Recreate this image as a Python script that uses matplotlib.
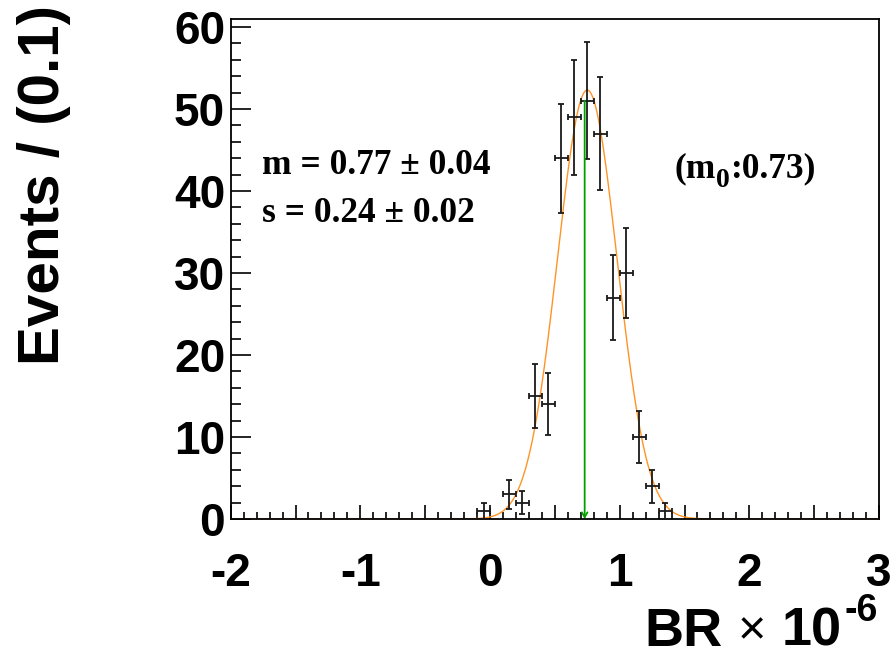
import numpy as np
import matplotlib
matplotlib.use("Agg")
import matplotlib.pyplot as plt
from matplotlib.ticker import MultipleLocator, FuncFormatter

# ---- data ----
bin_centers = [-0.05, 0.15, 0.25, 0.35, 0.45, 0.55, 0.65, 0.75, 0.85, 0.95, 1.05, 1.15, 1.25, 1.35]
counts = [1, 3, 2, 15, 14, 44, 49, 51, 47, 27, 30, 10, 4, 1]
bin_half_width = 0.05
fit_mean = 0.75
fit_sigma = 0.23
fit_amp = 52.3
m0 = 0.73
arrow_top = 51
fit_text_m = "m = 0.77 ± 0.04"
fit_text_s = "s = 0.24 ± 0.02"

plt.rcParams['axes.unicode_minus'] = False

W, H = 895, 659
fig = plt.figure(figsize=(W / 100, H / 100), dpi=100)
L, R, T, B = 230.7, 879, 18.7, 519
ax = fig.add_axes([L / W, 1 - B / H, (R - L) / W, (B - T) / H])

ax.set_xlim(-2, 3)
ax.set_ylim(0, 61)

# fit curve
xs = np.linspace(-2, 3, 2000)
ys = fit_amp * np.exp(-0.5 * ((xs - fit_mean) / fit_sigma) ** 2)
ax.plot(xs, ys, color='#ff9426', lw=1.0, zorder=2)

# data points
yerr = np.sqrt(np.array(counts, dtype=float))
ax.errorbar(bin_centers, counts, yerr=yerr, xerr=bin_half_width, fmt='none',
            ecolor='#1a1a1a', elinewidth=1.3, capsize=2.2, capthick=1.3, zorder=3)

# green arrow
ax.annotate('', xy=(m0, 0), xytext=(m0, arrow_top),
            arrowprops=dict(arrowstyle='->,head_length=0.35,head_width=0.2',
                            color='#00a000', lw=1.3, shrinkA=0, shrinkB=0), zorder=4)

# frame
for s in ax.spines.values():
    s.set_linewidth(1.3)
    s.set_color('black')

# ticks
ax.xaxis.set_major_locator(MultipleLocator(0.5))
ax.xaxis.set_minor_locator(MultipleLocator(0.1))
ax.xaxis.set_major_formatter(FuncFormatter(lambda v, p: ("%d" % round(v)) if abs(v - round(v)) < 1e-6 else ""))
ax.yaxis.set_major_locator(MultipleLocator(10))
ax.yaxis.set_minor_locator(MultipleLocator(2))
ax.tick_params(axis='x', which='major', direction='in', length=10, width=1.2, pad=24)
ax.tick_params(axis='x', which='minor', direction='in', length=5, width=1.2)
ax.tick_params(axis='y', which='major', direction='in', length=14.5, width=1.2, pad=4)
ax.tick_params(axis='y', which='minor', direction='in', length=7.2, width=1.2)
ax.tick_params(top=False, right=False, which='both')
for lab in ax.get_xticklabels() + ax.get_yticklabels():
    lab.set_fontfamily('Liberation Sans')
    lab.set_fontweight('bold')
    lab.set_fontsize(33)

renderer = fig.canvas.get_renderer()

# axis titles
fig.text(44 / W, 1 - 185 / H, "Events / (0.1)", rotation=90, ha='center', va='center',
         fontfamily='Liberation Sans', fontweight='bold', fontsize=42)

sans = dict(fontfamily='Liberation Sans', fontweight='bold')
base = 646
t_sup = fig.text(878 / W, 1 - 621 / H, "-6", ha='right', va='baseline', fontsize=27, **sans)
xr = 878 - t_sup.get_window_extent(renderer).width - 3
t_10 = fig.text(xr / W, 1 - base / H, "10", ha='right', va='baseline', fontsize=39, **sans)
xr -= t_10.get_window_extent(renderer).width + 15
t_x = fig.text(xr / W, 1 - (base - 2) / H, "×", ha='right', va='baseline', fontsize=35,
               fontfamily='Liberation Sans', fontweight='normal')
xr -= t_x.get_window_extent(renderer).width + 15
fig.text(xr / W, 1 - base / H, "BR", ha='right', va='baseline', fontsize=39, **sans)

# fit result text
txt = dict(fontfamily='Liberation Serif', fontweight='bold', fontsize=25.5)
ax.text(-1.76, 43.1, fit_text_m, ha='left', va='center', **txt)
ax.text(-1.76, 37.3, fit_text_s, ha='left', va='center', **txt)

# (m_0:0.73) composed manually
x0_px = 675
base_px = 177
t1 = fig.text(x0_px / W, 1 - base_px / H, "(m", ha='left', va='baseline', **txt)
w1 = t1.get_window_extent(renderer).width
t2 = fig.text((x0_px + w1) / W, 1 - (base_px + 10) / H, "0", ha='left', va='baseline',
              fontfamily='Liberation Serif', fontweight='bold', fontsize=20)
w2 = t2.get_window_extent(renderer).width
fig.text((x0_px + w1 + w2) / W, 1 - base_px / H, ":%.2f)" % m0, ha='left', va='baseline', **txt)

fig.savefig("out.png", dpi=100)
